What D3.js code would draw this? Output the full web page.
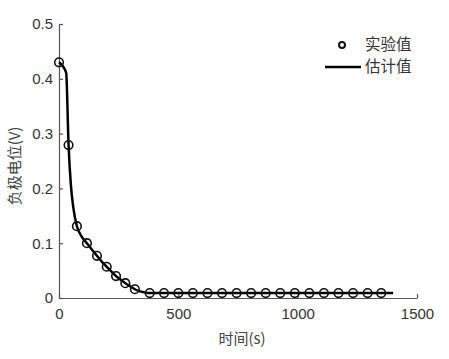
<!DOCTYPE html>
<html><head><meta charset="utf-8">
<script src="https://cdn.jsdelivr.net/npm/d3@7"></script>
<style>body{margin:0;background:#fff}</style>
</head><body>
<svg id="c" width="449" height="359"></svg>
<script>
const expT = [0,40,75,117,159,200,239,278,318,380,440,500,561,622,683,744,805,866,927,988,1049,1110,1171,1232,1293,1350];
const expV = [0.43,0.279,0.131,0.100,0.077,0.057,0.040,0.027,0.016,0.009,0.009,0.009,0.009,0.009,0.009,0.009,0.009,0.009,0.009,0.009,0.009,0.009,0.009,0.009,0.009,0.009];
const estT = [0,30,40,50,60,75,95,117,140,159,180,200,220,239,260,278,300,318,340,360,380,700,1000,1400];
const estV = [0.43,0.411,0.28,0.205,0.165,0.131,0.112,0.100,0.087,0.077,0.066,0.057,0.048,0.040,0.033,0.027,0.021,0.016,0.012,0.010,0.009,0.009,0.009,0.009];
const xTicks = [0,500,1000,1500];
const yTicks = [0,0.1,0.2,0.3,0.4,0.5];
const legendLabels = ["实验值","估计值"];
const xLabel = "时间(s)", yLabel = "负极电位(V)";

const svg = d3.select("#c");
const x = d3.scaleLinear().domain([0,1500]).range([59,417]);
const y = d3.scaleLinear().domain([0,0.5]).range([298,24]);
const axisColor = "#555";
const tf = "'Liberation Sans', Arial, sans-serif";
const cf = "'Noto Sans CJK SC', sans-serif";

const gx = svg.append("g").attr("transform","translate(0,298)")
  .call(d3.axisBottom(x).tickValues(xTicks).tickSizeInner(-4).tickSizeOuter(0).tickPadding(10).tickFormat(d3.format("d")));
const gy = svg.append("g").attr("transform","translate(59,0)")
  .call(d3.axisLeft(y).tickValues(yTicks).tickSizeInner(-4).tickSizeOuter(0).tickPadding(6).tickFormat(d=>d===0?"0":d3.format(".1f")(d)));
[gx,gy].forEach(g=>{
  g.selectAll("path,line").attr("stroke",axisColor).attr("stroke-width",1.2);
  g.selectAll("text").attr("fill","#333").attr("font-family",tf).attr("font-size",15);
});

svg.append("text").attr("x",242).attr("y",344).attr("text-anchor","middle")
  .attr("font-family",cf).attr("font-size",15).attr("fill","#444").text(xLabel);
svg.append("text").attr("transform","translate(20,166) rotate(-90)").attr("text-anchor","middle")
  .attr("font-family",cf).attr("font-size",15).attr("fill","#444").text(yLabel);

const line = d3.line().x(d=>x(d[0])).y(d=>y(d[1])).curve(d3.curveMonotoneX);
svg.append("path").datum(estT.map((t,i)=>[t,estV[i]])).attr("d",line)
  .attr("fill","none").attr("stroke","#000").attr("stroke-width",2.5);

svg.append("g").selectAll("circle").data(expT.map((t,i)=>[t,expV[i]])).join("circle")
  .attr("cx",d=>x(d[0])).attr("cy",d=>y(d[1])).attr("r",4.3)
  .attr("fill","none").attr("stroke","#111").attr("stroke-width",1.6);

// legend
const lg = svg.append("g");
lg.append("circle").attr("cx",342).attr("cy",45).attr("r",3).attr("fill","none").attr("stroke","#111").attr("stroke-width",2);
lg.append("line").attr("x1",325).attr("x2",361).attr("y1",67).attr("y2",67).attr("stroke","#000").attr("stroke-width",2.5);
lg.selectAll("text").data(legendLabels).join("text")
  .attr("x",365).attr("y",(d,i)=>45+i*22).attr("dy","0.35em")
  .attr("font-family",cf).attr("font-size",15.5).attr("fill","#333").text(d=>d);
</script>
</body></html>
